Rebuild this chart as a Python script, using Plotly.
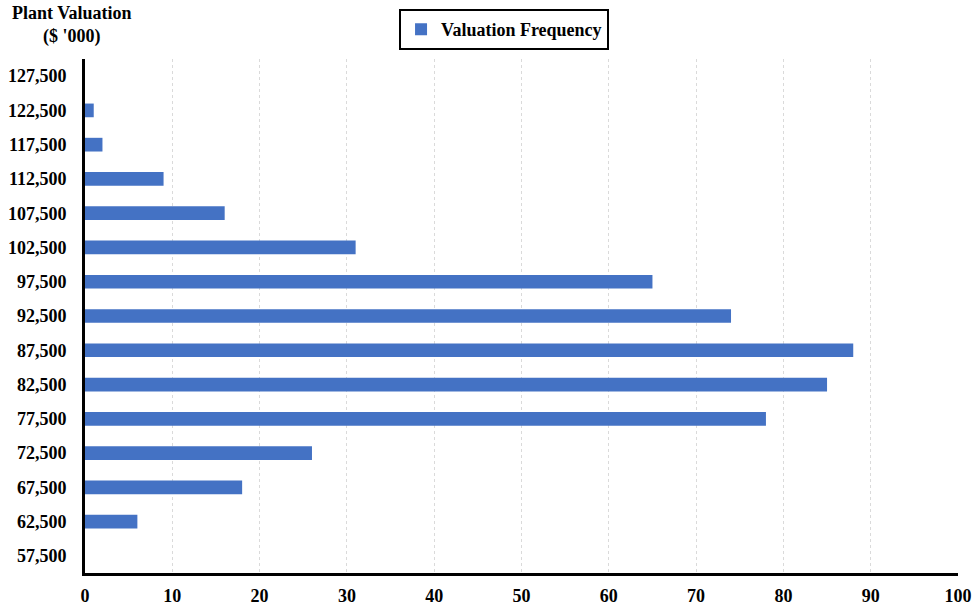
import plotly.graph_objects as go

# Plant valuation bins ($ '000) and how many valuations fall in each
valuation_bins = ["57,500", "62,500", "67,500", "72,500", "77,500", "82,500", "87,500",
                  "92,500", "97,500", "102,500", "107,500", "112,500", "117,500",
                  "122,500", "127,500"]
frequency = [0, 6, 18, 26, 78, 85, 88, 74, 65, 31, 16, 9, 2, 1, 0]
x_ticks = [0, 10, 20, 30, 40, 50, 60, 70, 80, 90, 100]

serif = "'Times New Roman', 'Liberation Serif', serif"

fig = go.Figure()
fig.add_trace(go.Bar(
    y=valuation_bins,
    x=frequency,
    orientation="h",
    name="Valuation Frequency",
    marker=dict(color="#4472C4", line=dict(width=0)),
    width=0.4,
))

fig.update_layout(
    width=972,
    height=607,
    margin=dict(l=85, r=14, t=59, b=34, autoexpand=False),
    paper_bgcolor="white",
    plot_bgcolor="white",
    font=dict(family=serif, size=18, color="black", weight="bold"),
    showlegend=True,
    legend=dict(
        orientation="h",
        x=0.48, xref="paper", xanchor="center",
        y=1.097, yanchor="top",
        bordercolor="black", borderwidth=2,
        font=dict(family=serif, size=18, color="black", weight="bold"),
        itemwidth=30,
        tracegroupgap=0,
    ),
    xaxis=dict(
        range=[0, 100],
        tickvals=x_ticks,
        showgrid=True,
        gridcolor="#dadada",
        griddash="3px,3px",
        gridwidth=1,
        showline=True,
        linecolor="black",
        linewidth=3,
        zeroline=False,
        ticks="",
        ticklabelstandoff=4,
        automargin=False,
        tickfont=dict(family=serif, size=18, color="black", weight="bold"),
        fixedrange=True,
    ),
    yaxis=dict(
        type="category",
        categoryorder="array",
        categoryarray=valuation_bins,
        showgrid=False,
        showline=True,
        linecolor="black",
        linewidth=3,
        ticks="",
        ticklabelstandoff=12,
        automargin=False,
        tickfont=dict(family=serif, size=18, color="black", weight="bold"),
        fixedrange=True,
    ),
    annotations=[
        dict(
            text="Plant Valuation<br>($ '000)",
            xref="paper", yref="paper",
            x=-0.015, y=1.066, yanchor="middle", xanchor="center",
            showarrow=False,
            align="center",
            font=dict(family=serif, size=18, color="black", weight="bold"),
        )
    ],
)

fig.write_html("out.html")
